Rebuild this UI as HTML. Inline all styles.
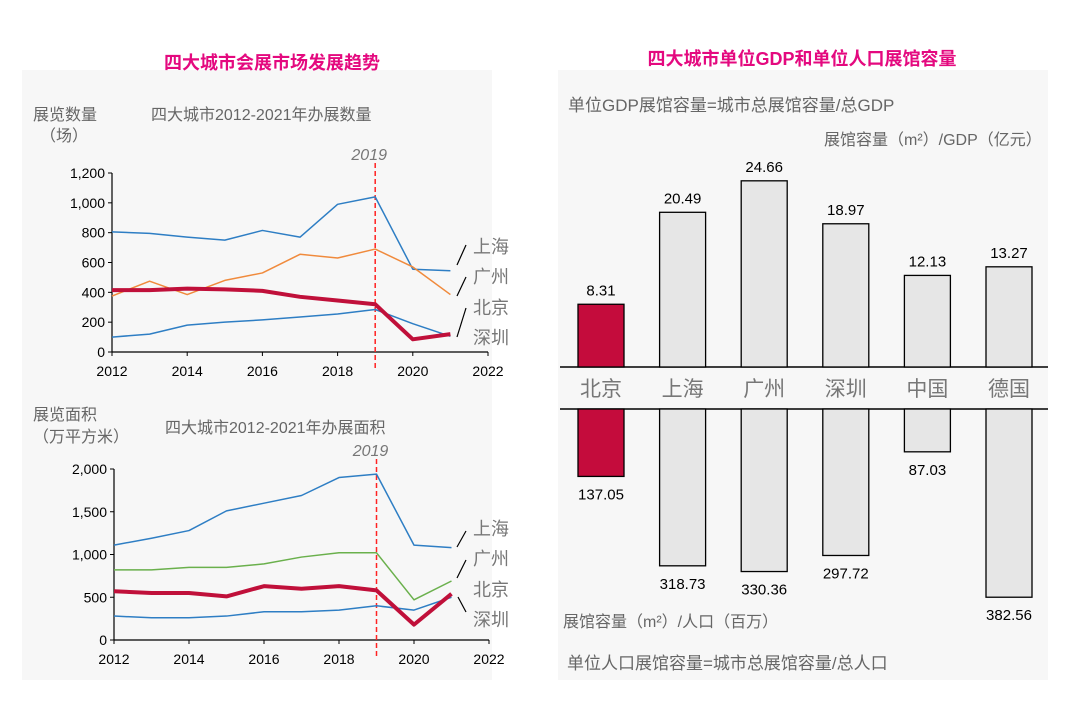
<!DOCTYPE html>
<html><head><meta charset="utf-8"><style>
html,body{margin:0;padding:0;background:#fff;}
svg{display:block;font-family:"Liberation Sans","Noto Sans CJK SC",sans-serif;}
</style></head><body>
<svg id="s" width="1080" height="701" viewBox="0 0 1080 701">
<rect x="22" y="70" width="470" height="610" fill="#f7f7f7"/>
<rect x="558" y="70" width="490" height="610" fill="#f7f7f7"/>
<text x="272" y="69" text-anchor="middle" font-size="18" font-weight="bold" fill="#e4097f">四大城市会展市场发展趋势</text>
<text x="802" y="65" text-anchor="middle" font-size="18" font-weight="bold" fill="#e4097f">四大城市单位GDP和单位人口展馆容量</text>
<g fill="#666" font-size="16">
<text x="33" y="120">展览数量</text>
<text x="40" y="141">（场）</text>
<text x="151" y="120">四大城市2012-2021年办展数量</text>
<text x="33" y="420">展览面积</text>
<text x="33" y="442">（万平方米）</text>
<text x="165" y="433">四大城市2012-2021年办展面积</text>
<text x="568" y="111" font-size="17">单位GDP展馆容量=城市总展馆容量/总GDP</text>
<text x="824" y="145">展馆容量（m²）/GDP（亿元）</text>
<text x="563" y="627">展馆容量（m²）/人口（百万）</text>
<text x="567" y="669" font-size="17">单位人口展馆容量=城市总展馆容量/总人口</text>
</g>
<g id="g1"></g><g id="g2"></g><g id="g3"></g>
</svg>
<script>
const years=[2012,2013,2014,2015,2016,2017,2018,2019,2020,2021];
const cnt_sh=[805,795,770,750,815,770,990,1040,555,545];
const cnt_gz=[375,475,385,480,530,655,630,690,570,385];
const cnt_bj=[415,415,425,420,410,370,345,320,85,120];
const cnt_sz=[100,120,180,200,215,235,255,285,190,105];
const cntTicks=[0,200,400,600,800,1000,1200];
const area_sh=[1110,1190,1280,1510,1600,1690,1900,1940,1110,1080];
const area_gz=[820,820,850,850,890,970,1020,1020,470,690];
const area_bj=[570,550,550,510,630,600,630,580,180,540];
const area_sz=[280,260,260,280,330,330,350,400,350,500];
const areaTicks=[0,500,1000,1500,2000];
const xTicks=[2012,2014,2016,2018,2020,2022];
const cats=["北京","上海","广州","深圳","中国","德国"];
const gdpVals=[8.31,20.49,24.66,18.97,12.13,13.27];
const popVals=[137.05,318.73,330.36,297.72,87.03,382.56];
const NS="http://www.w3.org/2000/svg";
function mk(p,t,a,txt){const e=document.createElementNS(NS,t);for(const k in a)e.setAttribute(k,a[k]);if(txt!==undefined)e.textContent=txt;p.appendChild(e);return e;}
function fmt(v){return v.toLocaleString('en-US');}
function lineChart(g,x0,x1,y0,y1,max,ticks,series,labY,pre){
  const X=y=>x0+(y-2012)/10*(x1-x0), Y=v=>y0-v/max*(y0-y1);
  let e=mk(g,'line',{x1:x0,y1:y0,x2:x0,y2:y1,stroke:'#000','stroke-width':1.2});
  
  
  e=mk(g,'line',{x1:x0,y1:y0,x2:x1,y2:y0,stroke:'#000','stroke-width':1.2});
  
  
  ticks.forEach(t=>{mk(g,'line',{x1:x0-4,x2:x0,y1:Y(t),y2:Y(t),stroke:'#000'});
    e=mk(g,'text',{x:x0-7,y:Y(t)+5,'text-anchor':'end','font-size':14,fill:'#000'},fmt(t));
    
    });
  xTicks.forEach(t=>{mk(g,'line',{x1:X(t),x2:X(t),y1:y0,y2:y0+4,stroke:'#000'});
    e=mk(g,'text',{x:X(t),y:y0+24,'text-anchor':'middle','font-size':14,fill:'#000'},t);
    
    });
  e=mk(g,'line',{x1:X(2019),x2:X(2019),y1:y1-10,y2:y0+18,stroke:'#f22','stroke-width':1.5,'stroke-dasharray':'5,3'});
  
  
  e=mk(g,'text',{x:X(2019)-6,y:y1-13,'text-anchor':'middle','font-size':16,'font-style':'italic',fill:'#777'},'2019');
  
  
  series.forEach(s=>{
    e=mk(g,'polyline',{points:s.d.map((v,i)=>X(years[i])+','+Y(v)).join(' '),fill:'none',stroke:s.c,'stroke-width':s.w,'stroke-linejoin':'round'});
    
    });
  labY.forEach((l,i)=>{
    e=mk(g,'text',{x:473,y:l,'font-size':18,fill:'#777'},['上海','广州','北京','深圳'][i]);
    
    });
}
lineChart(document.getElementById('g1'),112,488,352,173,1200,cntTicks,[
 {n:'shanghai',d:cnt_sh,c:'#2e7ec4',w:1.5},{n:'guangzhou',d:cnt_gz,c:'#f08a3c',w:1.5},
 {n:'shenzhen',d:cnt_sz,c:'#2e7ec4',w:1.5},{n:'beijing',d:cnt_bj,c:'#c0103a',w:4}],[253,283,314,344],'count');
lineChart(document.getElementById('g2'),114,489,640,469,2000,areaTicks,[
 {n:'shanghai',d:area_sh,c:'#2e7ec4',w:1.5},{n:'guangzhou',d:area_gz,c:'#6ab04c',w:1.5},
 {n:'shenzhen',d:area_sz,c:'#2e7ec4',w:1.5},{n:'beijing',d:area_bj,c:'#c0103a',w:4}],[535,565,596,626],'area');
[[457,265,466,245],[457,296,466,277],[457,337,466,308]].forEach(a=>mk(document.getElementById('g1'),'line',{x1:a[0],y1:a[1],x2:a[2],y2:a[3],stroke:'#000','stroke-width':1.2}));
[[457,547,466,531],[457,578,466,560],[466,612,458,597]].forEach(a=>mk(document.getElementById('g2'),'line',{x1:a[0],y1:a[1],x2:a[2],y2:a[3],stroke:'#000','stroke-width':1.2}));
const g3=document.getElementById('g3');
const base1=367,base2=409,bx0=601,step=81.6,bw=46,k1=7.55,k2=0.492;
let e=mk(g3,'line',{x1:560,x2:1048,y1:base1,y2:base1,stroke:'#000','stroke-width':1.5});


e=mk(g3,'line',{x1:560,x2:1048,y1:base2,y2:base2,stroke:'#000','stroke-width':1.5});


cats.forEach((c,i)=>{
  const cx=bx0+i*step, fill=i===0?'#c40c3c':'#e6e6e6';
  const h1=gdpVals[i]*k1;
  e=mk(g3,'rect',{x:cx-bw/2,y:base1-h1,width:bw,height:h1,fill:fill,stroke:'#000','stroke-width':1.3});
  
  
  e=mk(g3,'text',{x:cx,y:base1-h1-9,'text-anchor':'middle','font-size':15,fill:'#000'},gdpVals[i].toFixed(2));
  
  
  const h2=popVals[i]*k2;
  e=mk(g3,'rect',{x:cx-bw/2,y:base2,width:bw,height:h2,fill:fill,stroke:'#000','stroke-width':1.3});
  
  
  e=mk(g3,'text',{x:cx,y:base2+h2+23,'text-anchor':'middle','font-size':15,fill:'#000'},popVals[i].toFixed(2));
  
  
  e=mk(g3,'text',{x:cx,y:396,'text-anchor':'middle','font-size':21,fill:'#777'},c);
  
  
});
</script>
</body></html>
